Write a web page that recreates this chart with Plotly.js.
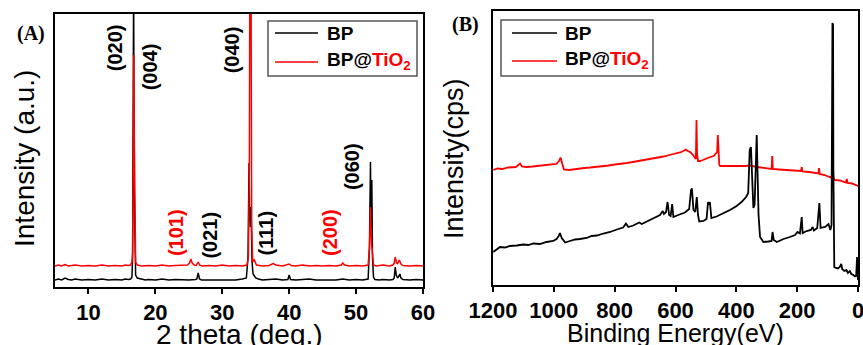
<!DOCTYPE html>
<html>
<head>
<meta charset="utf-8">
<script src="https://cdn.plot.ly/plotly-3.0.1.min.js"></script>
<style>html,body{margin:0;padding:0;background:#fff;}#chart{width:863px;height:345px;}</style>
</head>
<body>
<div id="chart"></div>
<script>
// ---------- Panel A: XRD (2 theta, intensity in arbitrary units) ----------
const xrdBP = [
  [5,7],[5.5,8],[6,7],[6.5,9],[7,7.5],[7.5,7],[8,8],[9,7],[10,7.5],[11,7],[12,8],[13,7],[14,7.5],[15,7],
  [15.5,8],[16,7.5],[16.3,8],[16.5,10],[16.6,30],[16.7,300],[16.75,300],[16.85,95],[16.95,30],[17.05,12],
  [17.3,9],[17.8,8],[18.5,7],[19,7.5],[20,7],[21,8],[22,7],[23,7.5],[24,7],[25,7],[26,7.5],[26.2,8],
  [26.4,14],[26.6,8],[26.9,7],[28,7],[29,7.5],[30,7],[31,7.5],[32,7],[33,8],[33.6,9],[33.85,30],[34.0,124],
  [34.1,70],[34.2,60],[34.3,80],[34.45,25],[34.6,13],[34.8,11],[35.0,9],[35.4,8],[36,7],[37,7.5],[38,8],
  [39,7],[39.8,7.5],[40.0,12],[40.2,7.5],[41,7],[42,7.5],[43,8],[44,7],[45,7],[46,7.5],[47,7],[48,8],
  [49,7],[50,7.5],[51,7],[51.8,8],[52.0,40],[52.15,125],[52.25,50],[52.35,107],[52.45,30],[52.6,10],
  [52.8,7.5],[53.5,7],[54,7.5],[55,7],[55.5,7.5],[55.7,9],[55.85,20],[56.0,12],[56.2,9],[56.4,11],
  [56.55,13],[56.7,9],[57,7.5],[58,7],[59,7.5],[60,7]
];
const xrdBPTiO2 = [
  [5,21],[5.5,22],[6,21],[6.5,22.5],[7,21],[7.5,21.5],[8,22],[9,21],[10,21.5],[11,21],[12,22],[13,21],
  [14,21.5],[15,21],[15.5,22],[16,21.5],[16.3,22],[16.5,25],[16.6,34],[16.7,120],[16.78,232],[16.85,150],
  [16.95,45],[17.05,25],[17.3,22],[18,21],[19,21.5],[20,21],[21,22],[22,21],[23,21.5],[24,21.5],[24.8,22],
  [25.1,24],[25.3,28],[25.5,24],[25.8,22],[26.1,21.5],[26.4,25],[26.6,22],[27,21],[28,21.5],[29,21],
  [30,22],[31,21],[32,21.5],[33,21],[33.7,22],[33.9,30],[34.05,120],[34.15,400],[34.3,300],[34.4,60],
  [34.55,25],[34.8,27],[35.1,22],[36,21],[37,21.5],[37.6,23.5],[38,22],[39,21],[40,23],[40.3,21.5],
  [41,21],[42,22],[43,21],[44,21.5],[45,21],[46,21.5],[47,21],[47.8,22],[48.0,24],[48.3,22],[49,21],
  [50,21.5],[51,21],[51.8,22],[52.0,39],[52.15,80],[52.3,45],[52.45,28],[52.6,22],[53,21],[54,22],
  [55,21],[55.5,22],[55.7,24],[55.85,30],[56.0,25],[56.2,23],[56.45,27],[56.7,23],[57,21.5],[58,21],
  [59,21.5],[60,21]
];
const millerLabels = ['(020)','(004)','(040)','(060)','(101)','(021)','(111)','(200)'];
const millerTheta  = [14.0, 19.25, 31.5, 49.4, 23.1, 28.1, 36.6, 46.1];
const millerPhase  = ['BP','BP','BP','BP','TiO2','BP','BP','TiO2'];

// ---------- Panel B: XPS survey (binding energy eV, intensity cps) ----------
const xpsBP = [
  [1199,33],[1188,36],[1177,38],[1161,37.5],[1144,39],[1122,39.5],[1100,40.5],[1084,40],[1067,41.5],
  [1046,41],[1024,43],[1002,44],[991,46],[984,49],[980,52],[974,47],[963,42.5],[947,44],[930,45.5],
  [914,46],[892,47],[876,49],[859,49.5],[837,51.5],[815,53],[793,55.5],[772,57.5],[763,61.5],[755,58],
  [739,59.5],[719,62.5],[711,61],[695,63.5],[673,66.5],[651,70],[642,74],[638,71],[631,73],[626,83],
  [621,70],[616,69],[611,81],[607,68],[591,70],[569,72.5],[555,76],[549,95],[546,96.5],[541,75],
  [535,73],[530,88],[526,70],[522,63.5],[508,64],[498,66],[493,83],[490,80],[487,83],[482,67],
  [465,68.5],[443,71.5],[421,75],[399,79],[383,83],[368,88],[361,92],[356,135],[352,138],[347,100],
  [344,77],[340,80],[336,120],[333,150],[330,110],[327,70],[322,48],[311,43],[295,43.5],[284,44],
  [281,53],[277,45],[267,43],[245,46],[224,48],[207,50],[199,53],[191,51.5],[185,68],[182,52],
  [169,54],[155,55],[149,58],[145,54.5],[134,57],[127,82],[123,57],[108,58],[97,61],[91,55],[87,60],
  [85,200],[84,262],[83,255],[82,260],[81,120],[80,30],[78,18],[73,17],[66,16.5],[60,18],[55,21],
  [52,16],[45,14],[38,15],[33,12],[27,14],[22,11],[15,10],[10,8.5],[6,9],[4,20],[3,28],[1,10],[0,5]
];
const xpsBPTiO2 = [
  [1199,115],[1185,116.5],[1170,116],[1150,117.5],[1125,118],[1111,121.5],[1105,118.5],[1090,118],
  [1070,118.5],[1050,119],[1030,119.5],[1010,120],[992,121],[983,124],[978,127.5],[973,122],[967,115.5],
  [950,115],[930,116],[900,117],[880,117.5],[860,118],[840,119],[820,119.5],[800,120.5],[780,121],
  [760,122],[740,123],[720,124],[700,125],[680,126],[660,127],[640,128.5],[620,130],[600,131],
  [585,132.5],[574,134],[566,135.5],[560,134],[552,133],[545,131],[537,127],[533,126],[531,165],
  [529,130],[526,124],[520,124],[510,125],[500,126.5],[490,127.5],[475,129],[468,131],[463,133],
  [461,150],[459,140],[456,120],[453,119],[430,119],[400,118.5],[370,119],[355,119.5],[340,118],
  [333,118],[320,117.5],[300,117],[290,116.5],[284,116],[282,129],[280,116],[260,115.5],[240,115],
  [220,114.5],[200,114],[187,114],[185,118],[183,113.5],[160,113],[140,112],[130,111.5],[128,117],
  [126,111],[110,110],[95,108.5],[89,107.5],[85,110],[83,123],[81,108],[77,105],[60,104.5],[45,103.5],
  [40,102.5],[37,106],[34,102],[20,101.5],[10,100.5],[5,100],[0,99]
];

const xA = [10,20,30,40,50,60];
const xB = [0,200,400,600,800,1000,1200];
const seriesNames = ['BP', 'BP@<span style="color:#ff0000">TiO<sub>2</sub></span>'];
const axisTitles = {xA:'2 theta (deg.)', yA:'Intensity (a.u.)', xB:'Binding Energy(eV)', yB:'Intensity(cps)'};

const col = (arr, i) => arr.map(p => p[i]);
const BLACK = '#000000', RED = '#ff0000';
const FONT = 'Arial, "Liberation Sans", sans-serif';

const data = [
  {x: col(xrdBP,0), y: col(xrdBP,1), mode:'lines', line:{color:BLACK, width:1.5},
   name: seriesNames[0], xaxis:'x', yaxis:'y'},
  {x: col(xrdBPTiO2,0), y: col(xrdBPTiO2,1), mode:'lines', line:{color:RED, width:1.5},
   name: seriesNames[1], xaxis:'x', yaxis:'y'},
  {x: col(xpsBPTiO2,0), y: col(xpsBPTiO2,1), mode:'lines', line:{color:RED, width:1.8},
   name: seriesNames[1], xaxis:'x2', yaxis:'y2'},
  {x: col(xpsBP,0), y: col(xpsBP,1), mode:'lines', line:{color:BLACK, width:1.8},
   name: seriesNames[0], xaxis:'x2', yaxis:'y2'}
];

const W = 863, H = 345;
const px = v => v / W, py = v => (H - v) / H;

const axisCommon = {showline:true, linewidth:2, linecolor:BLACK, mirror:true, showgrid:false, zeroline:false};
const millerY = [239, 220, 237, 120, 54, 52, 54, 54];

const annotations = millerLabels.map((t, i) => ({
  text: t, x: millerTheta[i], y: millerY[i], xref:'x', yref:'y', textangle:-90, showarrow:false,
  font:{family:FONT, size:20, weight:'bold', color: millerPhase[i] === 'TiO2' ? RED : BLACK}
}));
const serif = '"Liberation Serif", "Times New Roman", serif';
annotations.push(
  {text:'(A)', x:px(15), y:py(33), xref:'paper', yref:'paper', xanchor:'left', yanchor:'middle', showarrow:false,
   font:{family:serif, size:20, weight:'bold', color:BLACK}},
  {text:'(B)', x:px(450), y:py(25), xref:'paper', yref:'paper', xanchor:'left', yanchor:'middle', showarrow:false,
   font:{family:serif, size:20, weight:'bold', color:BLACK}},
  // axis titles
  {text:axisTitles.xA, x:px(239), y:py(334), xref:'paper', yref:'paper', xanchor:'center', yanchor:'middle', showarrow:false,
   font:{family:FONT, size:28, color:BLACK}},
  {text:axisTitles.xB, x:px(675), y:py(333), xref:'paper', yref:'paper', xanchor:'center', yanchor:'middle', showarrow:false,
   font:{family:FONT, size:25, color:BLACK}},
  {text:axisTitles.yA, x:px(24), y:py(159), xref:'paper', yref:'paper', xanchor:'center', yanchor:'middle', textangle:-90, showarrow:false,
   font:{family:FONT, size:28, color:BLACK}},
  {text:axisTitles.yB, x:px(454), y:py(159), xref:'paper', yref:'paper', xanchor:'center', yanchor:'middle', textangle:-90, showarrow:false,
   font:{family:FONT, size:27, color:BLACK}}
);

// ---- legends (drawn as boxes, sample lines and labels in paper coordinates) ----
const shapes = [];
const legends = [
  {box:[268, 417, 21, 76], line:[275, 318], text:325, rows:[33, 62]},
  {box:[501, 653, 20, 76], line:[512, 557], text:563, rows:[33, 61]}
];
const legendColors = [BLACK, RED];
legends.forEach(L => {
  shapes.push({type:'rect', xref:'paper', yref:'paper', x0:px(L.box[0]), x1:px(L.box[1]), y0:py(L.box[2]), y1:py(L.box[3]),
    line:{color:'#555', width:1.5}, fillcolor:'rgba(255,255,255,0)'});
  seriesNames.forEach((n, i) => {
    shapes.push({type:'line', xref:'paper', yref:'paper', x0:px(L.line[0]), x1:px(L.line[1]), y0:py(L.rows[i]), y1:py(L.rows[i]),
      line:{color:legendColors[i], width:1.5}});
    annotations.push({text:n, x:px(L.text), y:py(L.rows[i]) + (i === 1 ? 0.004 : 0), xref:'paper', yref:'paper',
      xanchor:'left', yanchor:'middle', showarrow:false, font:{family:FONT, size:19, weight:'bold', color:BLACK}});
  });
});

const layout = {
  width:W, height:H, margin:{l:0, r:0, t:0, b:0}, paper_bgcolor:'#fff', plot_bgcolor:'#fff',
  font:{family:FONT, color:BLACK}, showlegend:false,
  xaxis: Object.assign({}, axisCommon, {domain:[px(55), px(423)], range:[5,60], anchor:'y',
    tickvals:xA, ticks:'outside', ticklen:5, tickwidth:2, tickcolor:BLACK, ticklabeloverflow:'allow',
    tickfont:{family:FONT, size:22, weight:'bold'}}),
  yaxis: Object.assign({}, axisCommon, {domain:[(H-287)/H, (H-14)/H], range:[0,273], anchor:'x',
    showticklabels:false, ticks:''}),
  xaxis2: Object.assign({}, axisCommon, {domain:[px(493), px(858)], range:[1200,0], anchor:'y2',
    tickvals:xB, ticks:'outside', ticklen:5, tickwidth:2, tickcolor:BLACK, ticklabeloverflow:'allow',
    tickfont:{family:FONT, size:22, weight:'bold'}}),
  yaxis2: Object.assign({}, axisCommon, {domain:[(H-285)/H, (H-11)/H], range:[0,274], anchor:'x2',
    showticklabels:false, ticks:''}),
  shapes: shapes,
  annotations: annotations
};

Plotly.newPlot('chart', data, layout, {staticPlot:true, displayModeBar:false});
</script>
</body>
</html>
